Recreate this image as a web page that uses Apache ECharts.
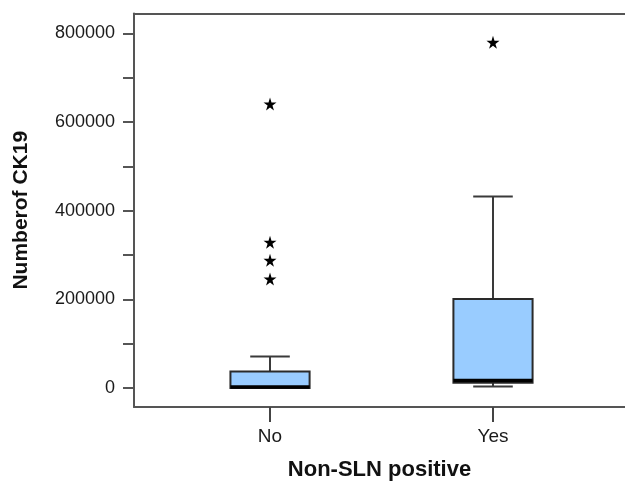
<!DOCTYPE html>
<html>
<head>
<meta charset="utf-8">
<script src="https://cdn.jsdelivr.net/npm/echarts@6/dist/echarts.min.js"></script>
<style>
html,body{margin:0;padding:0;background:#fff;}
#chart{width:625px;height:486px;}
</style>
</head>
<body>
<div id="chart"></div>
<script>
// ---- data ----
const categories = ['No', 'Yes'];
const whiskerLow = [0, 3000];
const quartile1 = [0, 12000];
const medians = [2000, 17000];
const quartile3 = [37000, 201000];
const whiskerHigh = [71000, 432000];
const outliersNo = [641000, 329000, 288000, 246000];
const outliersYes = [780000];
const yTickValues = [0, 100000, 200000, 300000, 400000, 500000, 600000, 700000, 800000];
const yLabelValues = [0, 200000, 400000, 600000, 800000];

const boxData = categories.map((c, i) => [i, whiskerLow[i], quartile1[i], medians[i], quartile3[i], whiskerHigh[i]]);
const outlierData = [].concat(
  outliersNo.map(v => [0, v]),
  outliersYes.map(v => [1, v])
);

const STAR = 'path://M50,0 L61,35 L98,35 L68,57 L79,91 L50,70 L21,91 L32,57 L2,35 L39,35 Z';
const LINE = '#3a3a3a';
const FONT = 'Liberation Sans, Arial, sans-serif';
const X_MIN = -0.61, X_MAX = 1.592;

const chart = echarts.init(document.getElementById('chart'), null, {renderer: 'canvas'});
chart.setOption({
  animation: false,
  backgroundColor: '#ffffff',
  grid: {left: 134, top: 13.5, right: 0, bottom: 78.5},
  xAxis: [{
    type: 'value',
    min: X_MIN, max: X_MAX,
    splitLine: {show: false},
    axisLine: {show: true, onZero: false, lineStyle: {color: '#555', width: 2}},
    axisTick: {show: true, customValues: [0, 1], length: 15, lineStyle: {color: '#444', width: 2}},
    axisLabel: {
      customValues: [0, 1],
      formatter: v => categories[Math.round(v)] || '',
      color: '#1a1a1a', fontSize: 19, fontFamily: FONT, margin: 20
    },
    name: 'Non-SLN positive',
    nameLocation: 'middle',
    nameGap: 52,
    nameTextStyle: {color: '#111', fontSize: 22, fontWeight: 'bold', fontFamily: FONT}
  }, {
    type: 'value',
    position: 'top',
    min: X_MIN, max: X_MAX,
    splitLine: {show: false},
    axisLine: {show: true, onZero: false, lineStyle: {color: '#555', width: 2}},
    axisTick: {show: false},
    axisLabel: {show: false}
  }],
  yAxis: {
    type: 'value',
    min: -43000, max: 845000,
    splitLine: {show: false},
    axisLine: {show: true, onZero: false, lineStyle: {color: '#555', width: 2}},
    axisTick: {show: true, customValues: yTickValues, length: 11, lineStyle: {color: '#555', width: 2}},
    axisLabel: {
      customValues: yLabelValues,
      formatter: v => String(v),
      color: '#1a1a1a', fontSize: 18, fontFamily: FONT, margin: 19
    },
    name: 'Numberof CK19',
    nameLocation: 'middle',
    nameGap: 102,
    nameTextStyle: {color: '#111', fontSize: 21, fontWeight: 'bold', fontFamily: FONT}
  },
  series: [
    {
      type: 'custom',
      data: boxData,
      encode: {x: 0, y: [1, 2, 3, 4, 5]},
      renderItem: function (params, api) {
        const x = api.value(0);
        const unit = api.size([1, 0])[0];
        const bw = unit * 0.355;
        const cw = bw / 2;
        const pLow = api.coord([x, api.value(1)]);
        const pQ1 = api.coord([x, api.value(2)]);
        const pMed = api.coord([x, api.value(3)]);
        const pQ3 = api.coord([x, api.value(4)]);
        const pHigh = api.coord([x, api.value(5)]);
        const cx = pLow[0];
        const lineStyle = {stroke: LINE, lineWidth: 2};
        return {
          type: 'group',
          children: [
            {type: 'line', shape: {x1: cx, y1: pQ3[1], x2: cx, y2: pHigh[1]}, style: lineStyle},
            {type: 'line', shape: {x1: cx, y1: pQ1[1], x2: cx, y2: pLow[1]}, style: lineStyle},
            {type: 'line', shape: {x1: cx - cw / 2, y1: pHigh[1], x2: cx + cw / 2, y2: pHigh[1]}, style: lineStyle},
            {type: 'line', shape: {x1: cx - cw / 2, y1: pLow[1], x2: cx + cw / 2, y2: pLow[1]}, style: lineStyle},
            {type: 'rect', shape: {x: cx - bw / 2, y: pQ3[1], width: bw, height: pQ1[1] - pQ3[1]},
              style: {fill: '#99ccff', stroke: '#2a2a2a', lineWidth: 2}},
            {type: 'line', shape: {x1: cx - bw / 2, y1: pMed[1], x2: cx + bw / 2, y2: pMed[1]},
              style: {stroke: '#000', lineWidth: 3.5}}
          ]
        };
      }
    },
    {
      type: 'scatter',
      data: outlierData,
      symbol: STAR,
      symbolSize: 13,
      itemStyle: {color: '#000', opacity: 1}
    }
  ]
});
</script>
</body>
</html>
